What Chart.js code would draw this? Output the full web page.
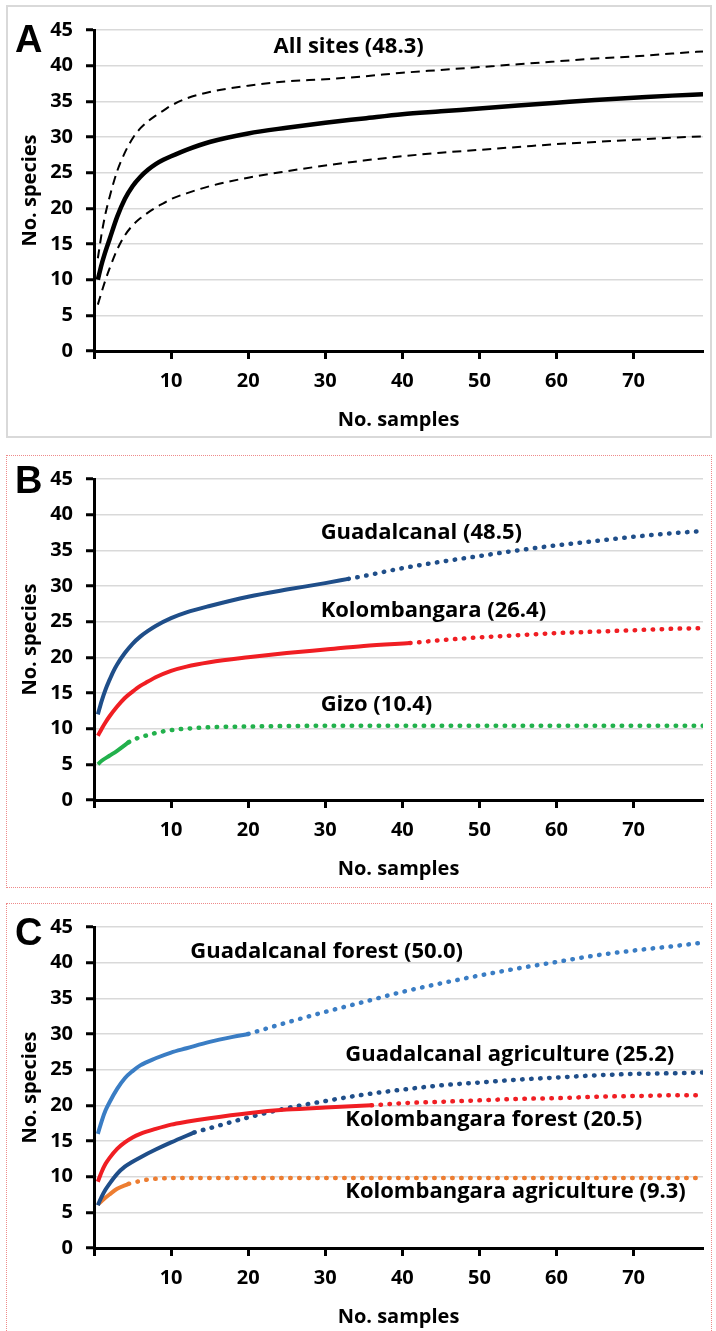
<!DOCTYPE html>
<html>
<head>
<meta charset="utf-8">
<script src="https://cdn.jsdelivr.net/npm/chart.js@4.4.0/dist/chart.umd.min.js"></script>
<style>
    body { margin: 0; background: #fff; width: 716px; height: 1331px; overflow: hidden; position: relative; }
    .frame { position: absolute; left: 6px; width: 706px; box-sizing: border-box; }
    .panel { position: absolute; left: 0; width: 716px; height: 440px; }
    .letter { position: absolute; left: 15px; font: bold 38px "Liberation Sans", Arial, sans-serif; line-height: 38px; color: #000; }
</style>
</head>
<body>
<div class="frame" style="top:5px;height:433px;border:2px solid #d9d9d9;"></div>
<div class="frame" style="top:455px;height:433px;border:1px dotted #ee8a8a;"></div>
<div class="frame" style="top:903px;height:440px;border:1px dotted #ee8a8a;"></div>

<div class="panel" style="top:0px"><canvas id="chartA"></canvas></div>
<div class="panel" style="top:449px"><canvas id="chartB"></canvas></div>
<div class="panel" style="top:897px"><canvas id="chartC"></canvas></div>

<div class="letter" style="top:20px">A</div>
<div class="letter" style="top:461px">B</div>
<div class="letter" style="top:913px">C</div>

<script>
// x axis tick values (No. samples)
const xTickValues = [0, 10, 20, 30, 40, 50, 60, 70];

// Panel A - all sites, mean with upper/lower bounds
const samplesA = [0.5, 1, 1.5, 2, 3, 4, 5, 6, 7, 8, 9, 10, 12, 15, 20, 25, 30, 35, 40, 45, 50, 55, 60, 65, 70, 75, 79];
const allSitesMean = [10, 12.2, 14, 15.6, 18.8, 21.3, 23.1, 24.4, 25.4, 26.2, 26.8, 27.3, 28.2, 29.3, 30.5, 31.3, 32, 32.6, 33.2, 33.6, 34, 34.4, 34.8, 35.2, 35.5, 35.8, 36];
const allSitesUpper = [13, 16.5, 19.3, 21.5, 25.2, 27.8, 29.8, 31.2, 32.2, 33, 33.7, 34.4, 35.4, 36.3, 37.2, 37.8, 38.1, 38.5, 39, 39.4, 39.8, 40.2, 40.6, 41, 41.3, 41.7, 42];
const allSitesLower = [6.5, 8.3, 10, 11.5, 14.2, 16.2, 17.6, 18.6, 19.4, 20.1, 20.7, 21.3, 22.1, 23.1, 24.3, 25.2, 26, 26.7, 27.3, 27.8, 28.2, 28.6, 29, 29.3, 29.6, 29.9, 30.1];
const labelsA = ['All sites (48.3)'];

// Panel B - islands (observed = solid, extrapolated = dotted)
const guadObsX = [0.5, 1, 1.5, 2, 2.5, 3, 4, 5, 6, 7, 8, 10, 12, 15, 20, 25, 30, 33];
const guadObsY = [12, 13.9, 15.5, 16.8, 18, 19, 20.6, 21.9, 22.9, 23.7, 24.4, 25.5, 26.3, 27.2, 28.5, 29.5, 30.4, 31];
const guadExtX = [33, 35, 40, 45, 50, 55, 60, 65, 70, 75, 79];
const guadExtY = [31, 31.4, 32.5, 33.4, 34.2, 35, 35.7, 36.3, 36.9, 37.4, 37.7];
const kolObsX = [0.5, 1, 1.5, 2, 3, 4, 5, 6, 7, 8, 10, 12, 15, 20, 25, 30, 35, 41];
const kolObsY = [9, 10, 10.9, 11.7, 13.1, 14.3, 15.2, 16, 16.6, 17.2, 18.1, 18.7, 19.3, 20, 20.6, 21.1, 21.6, 22];
const kolExtX = [41, 45, 50, 55, 60, 65, 70, 75, 79];
const kolExtY = [22, 22.4, 22.8, 23.1, 23.4, 23.6, 23.8, 24, 24.1];
const gizoObsX = [0.5, 1, 2, 3, 4.5];
const gizoObsY = [5, 5.5, 6.2, 6.9, 8.1];
const gizoExtX = [4.5, 5, 6, 7, 8, 10, 12, 15, 20, 30, 40, 50, 60, 70, 79];
const gizoExtY = [8.1, 8.4, 8.8, 9.1, 9.4, 9.8, 10, 10.2, 10.3, 10.4, 10.4, 10.4, 10.4, 10.4, 10.4];
const labelsB = ['Guadalcanal (48.5)', 'Kolombangara (26.4)', 'Gizo (10.4)'];

// Panel C - island x land use
const gfObsX = [0.5, 1, 1.5, 2, 3, 4, 5, 6, 8, 10, 12, 15, 18, 20];
const gfObsY = [16, 17.8, 19.3, 20.4, 22.3, 23.8, 24.8, 25.6, 26.6, 27.4, 28, 28.9, 29.6, 30];
const gfExtX = [20, 25, 30, 35, 40, 45, 50, 55, 60, 65, 70, 75, 79];
const gfExtY = [30, 31.6, 33.1, 34.5, 35.9, 37.1, 38.2, 39.2, 40.1, 41, 41.7, 42.3, 42.8];
const gaObsX = [0.5, 1, 1.5, 2, 3, 4, 5, 6, 8, 10, 13];
const gaObsY = [6, 7.2, 8.2, 9, 10.4, 11.4, 12.1, 12.7, 13.8, 14.8, 16.2];
const gaExtX = [13, 15, 20, 25, 30, 35, 40, 45, 50, 55, 60, 65, 70, 75, 79];
const gaExtY = [16.2, 16.8, 18.3, 19.6, 20.6, 21.5, 22.2, 22.8, 23.2, 23.6, 23.9, 24.2, 24.4, 24.5, 24.6];
const kfObsX = [0.5, 1, 1.5, 2, 3, 4, 5, 6, 8, 10, 12, 15, 20, 25, 30, 36];
const kfObsY = [9.3, 10.7, 11.8, 12.6, 13.9, 14.8, 15.5, 16, 16.7, 17.3, 17.7, 18.2, 18.9, 19.4, 19.7, 20];
const kfExtX = [36, 40, 45, 50, 55, 60, 65, 70, 75, 79];
const kfExtY = [20, 20.3, 20.5, 20.7, 20.9, 21, 21.2, 21.3, 21.4, 21.4];
const kaObsX = [0.5, 1, 2, 3, 4.5];
const kaObsY = [6.1, 6.6, 7.5, 8.3, 9];
const kaExtX = [4.5, 6, 7, 8, 10, 15, 20, 30, 40, 50, 60, 70, 79];
const kaExtY = [9, 9.4, 9.6, 9.7, 9.8, 9.8, 9.8, 9.8, 9.8, 9.8, 9.8, 9.8, 9.8];
const labelsC = ['Guadalcanal forest (50.0)', 'Guadalcanal agriculture (25.2)', 'Kolombangara forest (20.5)', 'Kolombangara agriculture (9.3)'];

const FONT = '"Open Sans", Lato, sans-serif';
const DOTS = [0.5, 8.5];

function pts(xs, ys) {
    return xs.map((x, i) => ({ x: x, y: ys[i] }));
}

function solid(xs, ys, color, width) {
    return { data: pts(xs, ys), borderColor: color, borderWidth: width || 4 };
}

function dotted(xs, ys, color) {
    return { data: pts(xs, ys), borderColor: color, borderWidth: 4.5, borderDash: DOTS, borderCapStyle: 'round' };
}

// draws the series names as text anchored in data units
const textLabels = {
    id: 'textLabels',
    afterDatasetsDraw(chart, args, opts) {
        const { ctx, scales } = chart;
        ctx.save();
        ctx.font = 'bold 22px ' + FONT;
        ctx.fillStyle = '#000';
        ctx.textAlign = 'left';
        ctx.textBaseline = 'middle';
        (opts.items || []).forEach(it => {
            ctx.fillText(it.text, scales.x.getPixelForValue(it.x), scales.y.getPixelForValue(it.y));
        });
        ctx.restore();
    }
};

function makeChart(id, datasets, items) {
    const tickFont = { family: FONT, size: 20, weight: 'bold' };
    const titleFont = { family: FONT, size: 20, weight: 'bold' };
    return new Chart(document.getElementById(id), {
        type: 'line',
        data: { datasets: datasets },
        options: {
            responsive: true,
            maintainAspectRatio: false,
            animation: false,
            layout: { padding: { top: 30, right: 13, left: 0, bottom: 0 } },
            datasets: {
                line: { pointRadius: 0, fill: false, cubicInterpolationMode: 'monotone' }
            },
            plugins: {
                legend: { display: false },
                tooltip: { enabled: false },
                textLabels: { items: items }
            },
            scales: {
                x: {
                    type: 'linear',
                    min: 0,
                    max: 79,
                    afterBuildTicks: axis => { axis.ticks = xTickValues.map(v => ({ value: v })); },
                    afterFit: s => { s.height = 89; },
                    ticks: {
                        color: '#000',
                        font: tickFont,
                        padding: 10,
                        maxRotation: 0,
                        autoSkip: false,
                        callback: v => (v === 0 ? '' : v)
                    },
                    grid: { drawOnChartArea: false, drawTicks: true, tickLength: 8, tickWidth: 3, tickColor: '#000' },
                    border: { display: true, color: '#000', width: 3 },
                    title: { display: true, text: 'No. samples', color: '#000', font: titleFont, padding: { top: 0, bottom: 8 } }
                },
                y: {
                    min: 0,
                    max: 45,
                    afterFit: s => { s.width = 94; },
                    ticks: { stepSize: 5, color: '#000', font: tickFont, padding: 13 },
                    grid: { color: '#d9d9d9', lineWidth: 1.5, tickLength: 8, tickWidth: 3, tickColor: '#000' },
                    border: { display: true, color: '#000', width: 3 },
                    title: { display: true, text: 'No. species', color: '#000', font: titleFont, padding: { top: 18, bottom: 0 } }
                }
            }
        },
        plugins: [textLabels]
    });
}

const BLACK = '#000000';
const NAVY = '#1f4e89';
const RED = '#f01e23';
const GREEN = '#22b14c';
const LIGHTBLUE = '#3a7dc4';
const ORANGE = '#ed7d31';

makeChart('chartA', [
    solid(samplesA, allSitesMean, BLACK, 4.5),
    { data: pts(samplesA, allSitesUpper), borderColor: BLACK, borderWidth: 2, borderDash: [9, 6] },
    { data: pts(samplesA, allSitesLower), borderColor: BLACK, borderWidth: 2, borderDash: [9, 6] }
], [
    { text: labelsA[0], x: 23.3, y: 42.6 }
]);

makeChart('chartB', [
    solid(guadObsX, guadObsY, NAVY),
    dotted(guadExtX, guadExtY, NAVY),
    solid(kolObsX, kolObsY, RED),
    dotted(kolExtX, kolExtY, RED),
    solid(gizoObsX, gizoObsY, GREEN),
    dotted(gizoExtX, gizoExtY, GREEN)
], [
    { text: labelsB[0], x: 29.4, y: 37.4 },
    { text: labelsB[1], x: 29.4, y: 26.6 },
    { text: labelsB[2], x: 29.4, y: 13.3 }
]);

makeChart('chartC', [
    solid(kfObsX, kfObsY, RED),
    dotted(kfExtX, kfExtY, RED),
    solid(gfObsX, gfObsY, LIGHTBLUE),
    dotted(gfExtX, gfExtY, LIGHTBLUE),
    solid(gaObsX, gaObsY, NAVY),
    dotted(gaExtX, gaExtY, NAVY),
    solid(kaObsX, kaObsY, ORANGE),
    dotted(kaExtX, kaExtY, ORANGE)
], [
    { text: labelsC[0], x: 12.5, y: 41.5 },
    { text: labelsC[1], x: 32.6, y: 27.1 },
    { text: labelsC[2], x: 32.6, y: 18.0 },
    { text: labelsC[3], x: 32.6, y: 7.85 }
]);
</script>
</body>
</html>
